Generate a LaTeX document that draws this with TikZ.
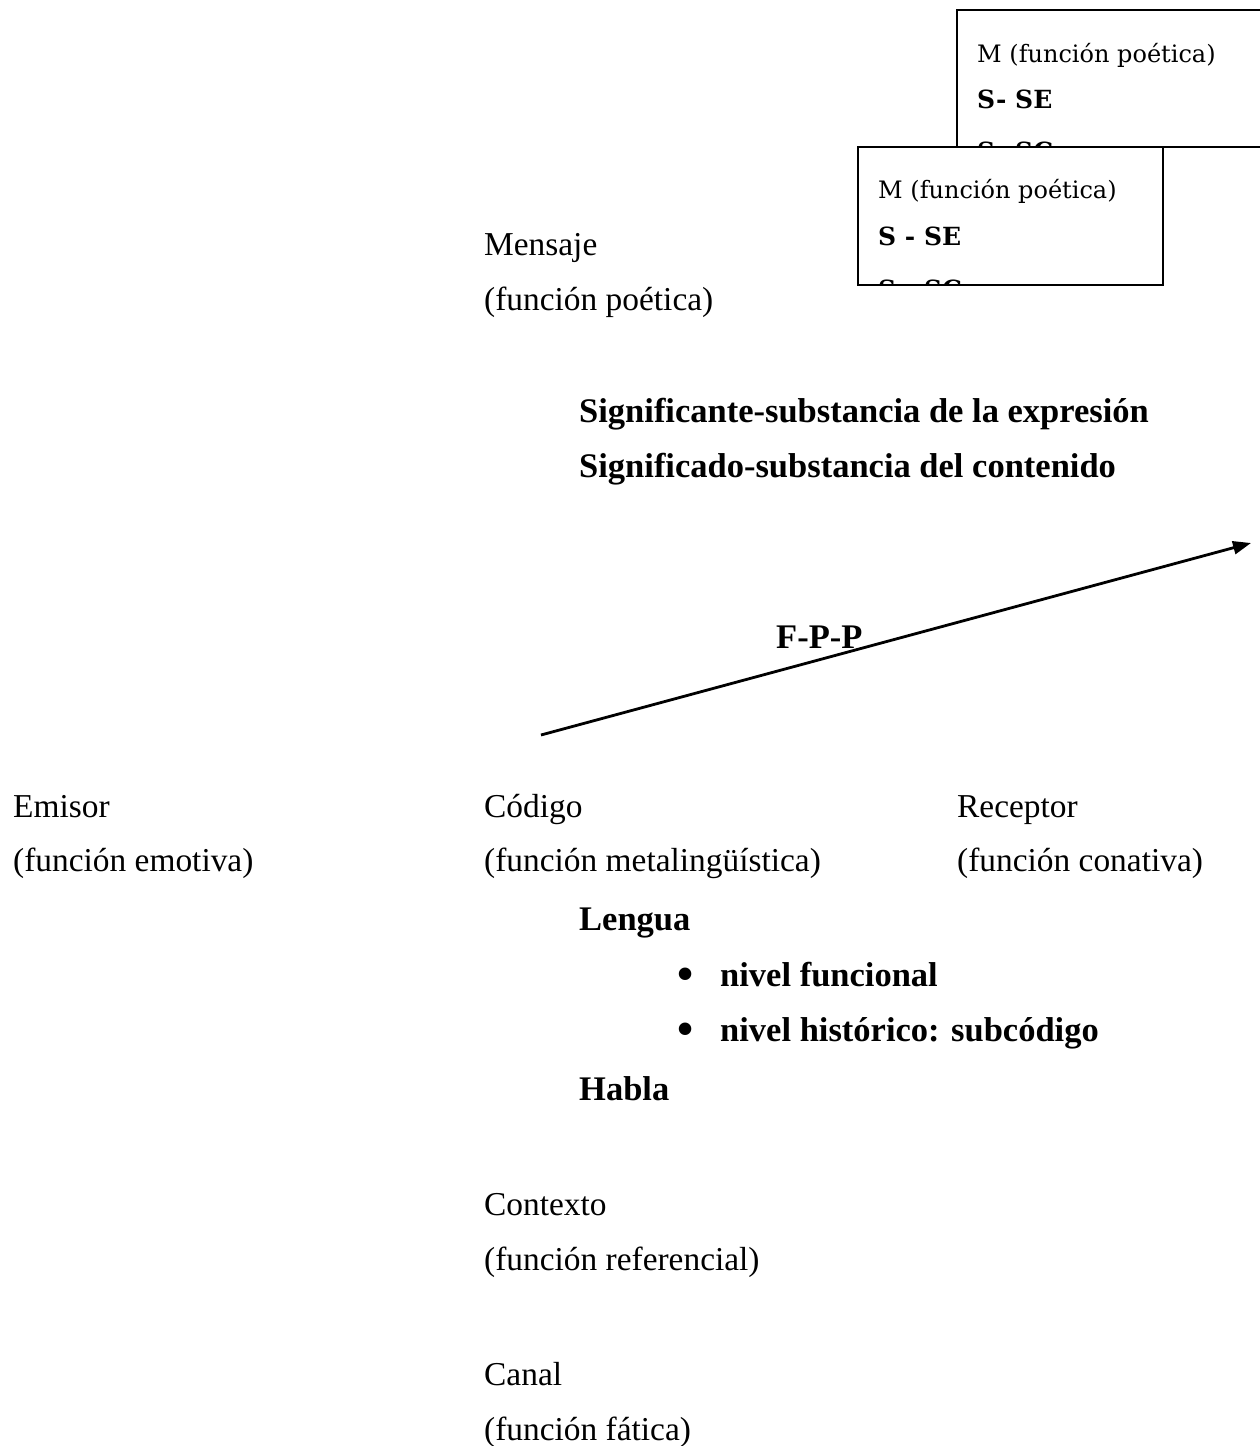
\documentclass[tikz,border=0pt]{standalone}
\usepackage{fontspec}
\setmainfont{Liberation Serif}
\newfontfamily\boxfont{DejaVu Serif}
\usetikzlibrary{arrows.meta}
\begin{document}
\begin{tikzpicture}[x=1pt,y=-1pt,
  txt/.style={anchor=base west,inner sep=0pt,font=\fontsize{33.4}{40}\selectfont},
  btxt/.style={anchor=base west,inner sep=0pt,font=\fontsize{34.5}{40}\selectfont\bfseries},
  bullet/.style={anchor=base west,inner sep=0pt,font=\fontsize{46}{50}\selectfont\bfseries},
  boxtxt/.style={anchor=base west,inner sep=0pt,font=\boxfont\fontsize{24}{28}\selectfont},
  boxbold/.style={anchor=base west,inner sep=0pt,font=\boxfont\fontsize{25}{30}\selectfont\bfseries},
  mbox/.style={draw=black,line width=2pt,fill=white},
  arr/.style={line width=2.8pt,-{Triangle[length=18pt,width=13pt]}}]
\useasboundingbox (0,0) rectangle (1259,1446);
% back box (upper)
\draw[mbox] (957,10) rectangle (1275,147);
\begin{scope}
\clip (958,11) rectangle (1274,146);
\node[boxtxt] (b1a) at (977,62) {M (función poética)};
\node[boxbold] (b1b) at (977,108) {S- SE};
\node[boxbold] (b1c) at (977,160) {S- SC};
\end{scope}
% front box (lower)
\draw[mbox] (858,147) rectangle (1163,285);
\begin{scope}
\clip (859,148) rectangle (1162,284);
\node[boxtxt] (b2a) at (878,198) {M (función poética)};
\node[boxbold] (b2b) at (878,245) {S - SE};
\node[boxbold] (b2c) at (878,298) {S - SC};
\end{scope}
% Mensaje
\node[txt] (men1) at (484,255) {Mensaje};
\node[txt] (men2) at (484,310) {(función poética)};
\node[btxt] (sig1) at (579,422) {Significante-substancia de la expresión};
\node[btxt] (sig2) at (579,477) {Significado-substancia del contenido};
% arrow
\coordinate (a0) at (541,735);
\coordinate (a1) at (1251,543);
\draw[arr] (a0) -- (a1);
\node[btxt] (fpp) at (776,648) {F-P-P};
% row
\node[txt] (em1) at (13,817) {Emisor};
\node[txt] (em2) at (13,871) {(función emotiva)};
\node[txt] (co1) at (484,817) {Código};
\node[txt] (co2) at (484,871) {(función metalingüística)};
\node[txt] (re1) at (957,817) {Receptor};
\node[txt] (re2) at (957,871) {(función conativa)};
% lengua
\node[btxt] (len) at (579,930) {Lengua};
\node[bullet] (bul1) at (677,989) {•};
\node[btxt] (niv1) at (720,986) {nivel funcional};
\node[bullet] (bul2) at (677,1044) {•};
\node[btxt] (niv2) at (720,1041) {nivel histórico: subcódigo};
\node[btxt] (hab) at (579,1100) {Habla};
% contexto, canal
\node[txt] (ctx1) at (484,1215) {Contexto};
\node[txt] (ctx2) at (484,1270) {(función referencial)};
\node[txt] (can1) at (484,1385) {Canal};
\node[txt] (can2) at (484,1440) {(función fática)};
\end{tikzpicture}
\end{document}
